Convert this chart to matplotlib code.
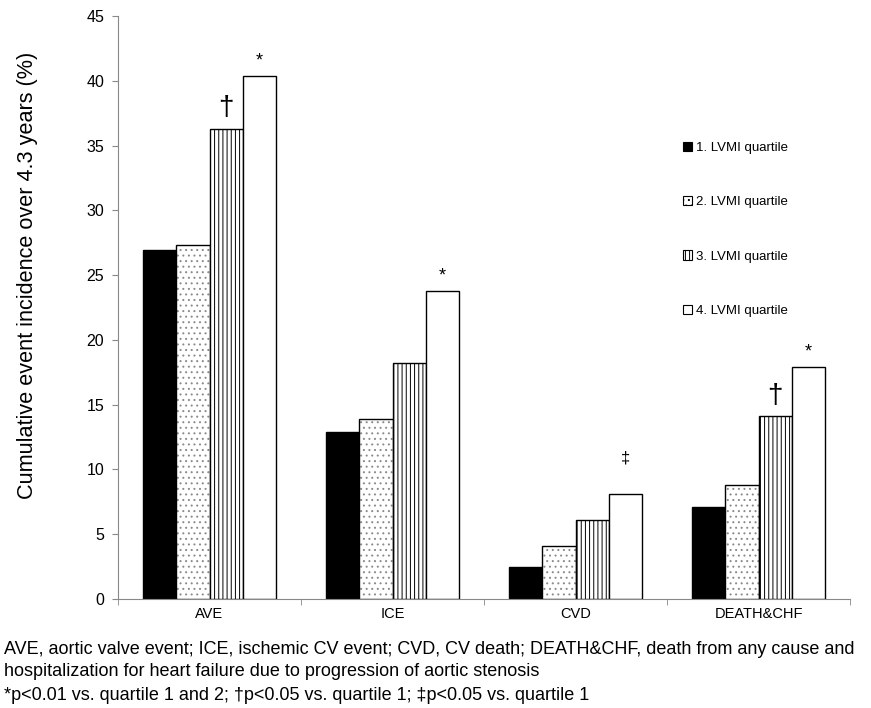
import matplotlib
matplotlib.use("Agg")
import matplotlib.pyplot as plt
import numpy as np
from matplotlib.patches import Patch
from matplotlib import font_manager as fm

categories = ["AVE", "ICE", "CVD", "DEATH&CHF"]
series_names = ["1. LVMI quartile", "2. LVMI quartile", "3. LVMI quartile", "4. LVMI quartile"]
q1 = [26.9, 12.9, 2.5, 7.1]
q2 = [27.3, 13.9, 4.1, 8.8]
q3 = [36.3, 18.2, 6.1, 14.1]
q4 = [40.4, 23.8, 8.1, 17.9]
# significance markers: (category index, series index, symbol)
markers = [(0, 2, "†"), (0, 3, "*"), (1, 3, "*"), (2, 3, "‡"), (3, 2, "†"), (3, 3, "*")]
yticks = [0, 5, 10, 15, 20, 25, 30, 35, 40, 45]
ylabel = "Cumulative event incidence over 4.3 years (%)"
caption1 = "AVE, aortic valve event; ICE, ischemic CV event; CVD, CV death; DEATH&CHF, death from any cause and"
caption2 = "hospitalization for heart failure due to progression of aortic stenosis"
caption3 = "*p<0.01 vs. quartile 1 and 2; †p<0.05 vs. quartile 1; ‡p<0.05 vs. quartile 1"

names = {f.name for f in fm.fontManager.ttflist}
base = "Liberation Sans" if "Liberation Sans" in names else "DejaVu Sans"
plt.rcParams['font.family'] = [base, 'DejaVu Sans']
plt.rcParams['hatch.linewidth'] = 0.7

fig = plt.figure(figsize=(8.71, 7.08), dpi=100)
ax = fig.add_axes([118/871, 1-599/708, (850-118)/871, (599-16)/708])

series = [q1, q2, q3, q4]
styles = [dict(facecolor="black", hatch=None, hcolor="black"),
          dict(facecolor="white", hatch="...", hcolor="#8a8a8a"),
          dict(facecolor="white", hatch="||||", hcolor="black"),
          dict(facecolor="white", hatch=None, hcolor="black")]
x = np.arange(len(categories))
w = 0.183
for i, (vals, st) in enumerate(zip(series, styles)):
    pos = x + (i - 1.5) * w
    if st["hatch"]:
        ax.bar(pos, vals, width=w, facecolor=st["facecolor"], edgecolor=st["hcolor"],
               linewidth=0, hatch=st["hatch"])
        ax.bar(pos, vals, width=w, facecolor="none", edgecolor="black", linewidth=1.0)
    else:
        ax.bar(pos, vals, width=w, facecolor=st["facecolor"], edgecolor="black", linewidth=1.0)

for ci, si, sym in markers:
    val = series[si][ci]
    xx = x[ci] + (si - 1.5) * w
    if sym == "*":
        ax.text(xx, val + 0.5, sym, ha="center", va="bottom", fontsize=13)
    elif sym == "†":
        ax.text(xx, val + 0.6, sym, ha="center", va="bottom", fontsize=20)
    else:
        ax.text(xx, val + 2.2, sym, ha="center", va="bottom", fontsize=12)

ax.set_xlim(-0.5, len(categories) - 0.5)
ax.set_ylim(0, 45)
ax.set_yticks(yticks)
ax.set_xticks(x)
ax.set_xticklabels(categories, fontsize=10.5)
ax.set_xticks(np.arange(len(categories) + 1) - 0.5, minor=True)
ax.tick_params(axis="x", which="major", length=0, pad=6)
ax.tick_params(axis="x", which="minor", length=4, color="#888888")
ax.tick_params(axis="y", length=4, color="#888888", labelsize=11.5, pad=6)
for s in ["top", "right"]:
    ax.spines[s].set_visible(False)
for s in ["left", "bottom"]:
    ax.spines[s].set_color("#888888")
fig.text(28/871, 1-275/708, ylabel, fontsize=15.6, rotation=90, ha="center", va="center")

handles = []
for st in styles:
    handles.append(Patch(facecolor=st["facecolor"], edgecolor="black", hatch=st["hatch"], linewidth=0.8))
ax.legend(handles, series_names, loc="upper left", bbox_to_anchor=(0.755, 0.805),
          frameon=False, fontsize=9.5, handlelength=0.7, handleheight=0.7,
          handletextpad=0.3, labelspacing=3.2)

for txt, yy in [(caption1, 649), (caption2, 672), (caption3, 695)]:
    fig.text(4/871, 1-yy/708, txt, fontsize=12.95, va="center")

fig.savefig("out.png", dpi=100)
